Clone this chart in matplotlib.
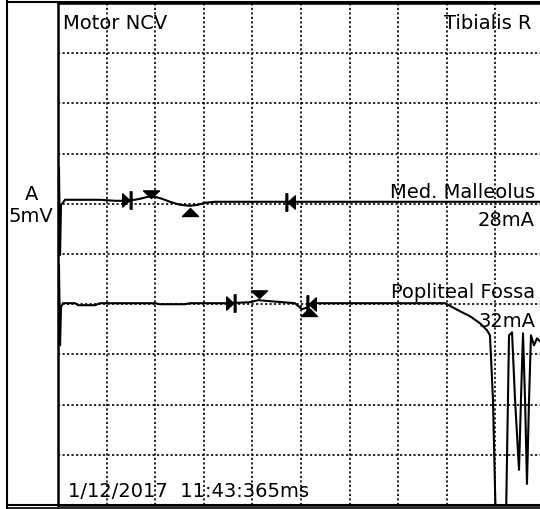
import matplotlib
matplotlib.use("Agg")
import matplotlib.pyplot as plt
from matplotlib.path import Path
from matplotlib.lines import Line2D
import numpy as np

# ---- data (time in ms, amplitude in mV; 5 ms/div, 5 mV/div) ----
t1 = [0, 0.10, 0.21, 0.31, 0.51, 0.72, 2.26, 4.32, 5.86, 6.58, 7.92, 8.44, 9.26,
      9.98, 10.70, 11.52, 12.55, 13.58, 14.40, 15.12, 16.15, 24.9, 50]
v1 = [30.4, 33.6, 24.9, 29.9, 30.1, 30.4, 30.4, 30.4, 30.3, 30.3, 30.4, 30.5, 30.7,
      30.7, 30.5, 30.2, 29.9, 29.8, 29.9, 30.1, 30.2, 30.2, 30.2]

t2 = [0, 0.10, 0.21, 0.31, 0.51, 1.75, 2.06, 3.81, 4.32, 9.98, 10.49, 13.07, 13.58,
      17.49, 19.75, 20.58, 21.81, 24.38, 25.10, 25.72, 26.13, 39.81, 41.36, 42.39,
      43.42, 44.14, 44.44, 44.75, 45.06, 45.68, 46.09, 46.40, 46.71, 47.02, 47.43,
      47.63, 47.84, 48.05, 48.25, 48.46, 48.66, 48.97, 49.28, 50.0]
v2 = [20.1, 23.9, 15.9, 19.7, 20.1, 20.1, 19.9, 19.9, 20.1, 20.1, 20.0, 20.0, 20.1,
      20.1, 20.2, 20.4, 20.3, 20.1, 19.5, 19.7, 20.1, 20.1, 19.3, 18.8,
      18.1, 17.4, 16.9, 10.5, -2.5, -2.5, -1.5, 16.9, 17.2, 10.5, 3.5,
      10.5, 17.1, 10.5, 2.1, 10.5, 16.9, 15.9, 16.6, 15.9]

# latency markers: (time, amplitude)
onset1, peak1, trough1, end1 = (7.10, 30.4), (9.57, 31.0), (13.58, 29.2), (23.87, 30.2)
onset2, peak2, trough2, end2 = (17.8, 20.1), (20.68, 21.0), (25.82, 19.2), (26.03, 20.0)

trace_labels = ["Med. Malleolus", "Popliteal Fossa"]
trace_currents = ["28mA", "32mA"]
title_left = "Motor NCV"
title_right = "Tibialis R"
channel = "A"
gain = "5mV"
stamp = "1/12/2017  11:43:365ms"

# ---- figure ----
W, H = 540, 509
fig = plt.figure(figsize=(W / 100, H / 100), dpi=100)
fig.patch.set_facecolor("white")

def fx(px):
    return px / W

def fy(py):
    return 1 - py / H

ax = fig.add_axes([fx(58), fy(505), (544 - 58) / W, (505 - 3) / H])
ax.set_xlim(0, 50)
ax.set_ylim(0, 50)
ax.set_xticks(np.arange(0, 51, 5))
ax.set_yticks(np.arange(0, 51, 5))
ax.tick_params(length=0, labelbottom=False, labelleft=False)
ax.grid(True, color="black", linestyle=(0, (1.3, 1.4)), linewidth=1.2)
for s in ["left", "bottom", "top"]:
    ax.spines[s].set_linewidth(1.8)
ax.spines["right"].set_visible(False)

ax.plot(t1, v1, color="black", lw=1.5, zorder=3)
ax.plot(t2, v2, color="black", lw=1.5, zorder=3)

# custom marker paths
def poly(*pts):
    return list(pts) + [pts[0]]

def make_path(polys):
    verts, codes = [], []
    for p in polys:
        verts += p
        codes += [Path.MOVETO] + [Path.LINETO] * (len(p) - 2) + [Path.CLOSEPOLY]
    return Path(verts, codes)

onset_marker = make_path([
    poly((-0.55, -0.76), (0.27, 0.0), (-0.55, 0.76)),
    poly((0.32, -1.0), (0.52, -1.0), (0.52, 1.0), (0.32, 1.0)),
])
end_marker = make_path([
    poly((0.55, -0.76), (-0.27, 0.0), (0.55, 0.76)),
    poly((-0.32, -1.0), (-0.52, -1.0), (-0.52, 1.0), (-0.32, 1.0)),
])
peak_marker = make_path([poly((-1.0, 0.45), (1.0, 0.45), (0.0, -0.5))])
trough_marker = make_path([poly((-1.0, -0.5), (1.0, -0.5), (0.0, 0.5))])

for (o, p, tr, e) in [(onset1, peak1, trough1, end1), (onset2, peak2, trough2, end2)]:
    ax.plot(*o, marker=onset_marker, ms=12.5, color="black", zorder=4)
    ax.plot(*e, marker=end_marker, ms=12.5, color="black", zorder=4)
    ax.plot(*p, marker=peak_marker, ms=11.5, color="black", zorder=4)
    ax.plot(*tr, marker=trough_marker, ms=11.5, color="black", zorder=4)

# ---- texts ----
fs = 14
fig.text(fx(63), fy(29), title_left, fontsize=fs, va="baseline", ha="left")
fig.text(fx(531), fy(29), title_right, fontsize=fs, va="baseline", ha="right")
fig.text(fx(535), fy(198), trace_labels[0], fontsize=fs, va="baseline", ha="right")
fig.text(fx(535), fy(226), trace_currents[0], fontsize=fs, va="baseline", ha="right")
fig.text(fx(535), fy(298), trace_labels[1], fontsize=fs, va="baseline", ha="right")
fig.text(fx(535), fy(327), trace_currents[1], fontsize=fs, va="baseline", ha="right")
fig.text(fx(32), fy(200), channel, fontsize=fs, va="baseline", ha="center")
fig.text(fx(31), fy(222), gain, fontsize=fs, va="baseline", ha="center")
fig.text(fx(68), fy(497), stamp, fontsize=fs, va="baseline", ha="left")

# ---- outer frame ----
fig.add_artist(Line2D([fx(7), fx(7)], [fy(1), fy(508)], color="black", lw=1.5))
fig.add_artist(Line2D([fx(7), fx(540)], [fy(508), fy(508)], color="black", lw=1.2))
fig.add_artist(Line2D([fx(7), fx(540)], [fy(505), fy(505)], color="black", lw=1.5))
fig.add_artist(Line2D([fx(7), fx(540)], [fy(1.5), fy(1.5)], color="black", lw=1.5))

fig.savefig("out.png", dpi=100, facecolor="white")
